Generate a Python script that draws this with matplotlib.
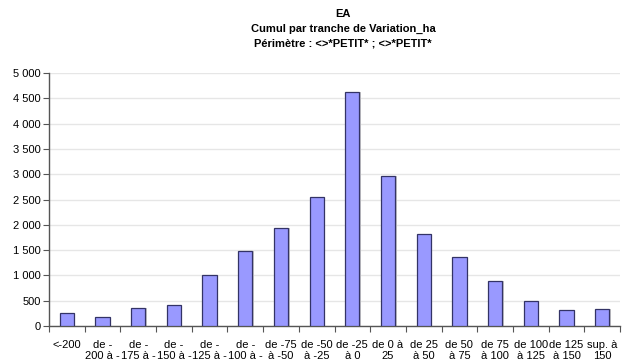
import matplotlib
matplotlib.use("Agg")
import matplotlib.pyplot as plt
from matplotlib.ticker import FuncFormatter, MultipleLocator

categories = ["<-200", "de -\n200 à -", "de -\n175 à -", "de -\n150 à -", "de -\n125 à -",
              "de -\n100 à -", "de -75\nà -50", "de -50\nà -25", "de -25\nà 0", "de 0 à\n25",
              "de 25\nà 50", "de 50\nà 75", "de 75\nà 100", "de 100\nà 125", "de 125\nà 150",
              "sup. à\n150"]
values = [260, 180, 360, 410, 1010, 1490, 1930, 2550, 4620, 2960, 1820, 1360, 890, 490, 320, 340]
title_lines = ["EA", "Cumul par tranche de Variation_ha", "Périmètre : <>*PETIT* ; <>*PETIT*"]

plt.rcParams['font.family'] = ['Liberation Sans', 'DejaVu Sans']

fig = plt.figure(figsize=(6.26, 3.61), dpi=100)
ax = fig.add_axes([49/626, 1 - 326/361, (620-49)/626, (326-73)/361])

x = list(range(len(categories)))
# shadow
ax.bar([i + 0.04 for i in x], values, width=0.4, color='#c4c4c4', zorder=2, linewidth=0)
ax.bar(x, values, width=0.4, color='#9999FF', edgecolor='#333366', linewidth=0.9, zorder=3)

ax.set_xlim(-0.5, len(categories) - 0.5)
ax.set_ylim(0, 5000)
ax.yaxis.set_major_locator(MultipleLocator(500))
ax.yaxis.set_major_formatter(FuncFormatter(lambda v, p: f"{int(v):,}".replace(",", " ")))
ax.grid(axis='y', color='#e6e6e6', linewidth=1, zorder=0)
ax.set_axisbelow(True)

ax.set_xticks([i - 0.5 for i in range(len(categories) + 1)], minor=False)
ax.set_xticklabels([])
ax.set_xticks(x, minor=True)
ax.set_xticklabels(categories, minor=True, fontsize=8, linespacing=1.1)
ax.tick_params(axis='x', which='minor', length=0, pad=10)
ax.tick_params(axis='x', which='major', length=4, color='#555555', direction='out')
ax.tick_params(axis='y', length=4, color='#555555', labelsize=8, direction='out', pad=2)

for s in ['top', 'right']:
    ax.spines[s].set_visible(False)
for s in ['left', 'bottom']:
    ax.spines[s].set_color('#555555')
    ax.spines[s].set_linewidth(1)

ys = [14, 29, 43]
for t, y in zip(title_lines, ys):
    fig.text(343/626, 1 - y/361, t, ha='center', va='center', fontsize=8, fontweight='bold')

fig.savefig("out.png", dpi=100)
